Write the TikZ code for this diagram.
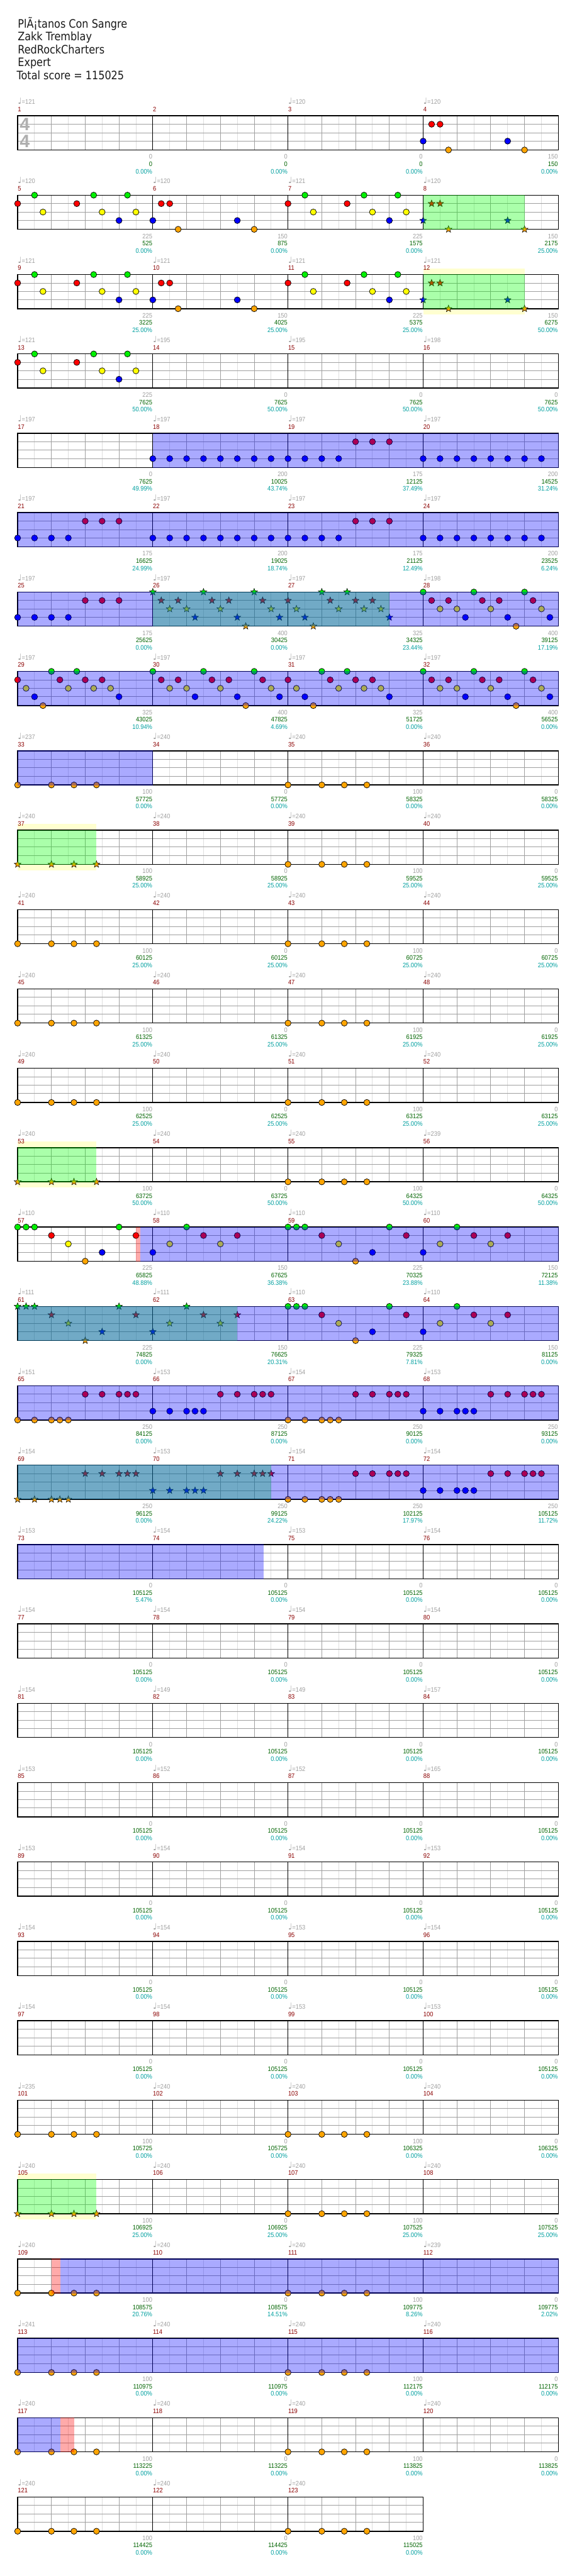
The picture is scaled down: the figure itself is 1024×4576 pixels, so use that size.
\documentclass[tikz,border=0pt]{standalone}
\usepackage{fontspec}
\setmainfont{Liberation Sans}
\newfontfamily\hdrf[FakeStretch=0.87]{DejaVu Sans}
\newfontfamily\lblf[FakeStretch=0.9]{Liberation Sans}
\newfontfamily\symf{DejaVu Sans}
\usetikzlibrary{shapes.geometric}
\definecolor{lane0}{RGB}{0,240,0}
\definecolor{lane1}{RGB}{255,0,0}
\definecolor{lane2}{RGB}{255,255,0}
\definecolor{lane3}{RGB}{0,0,255}
\definecolor{lane4}{RGB}{255,165,0}
\definecolor{gridl}{RGB}{222,222,222}
\definecolor{gridm}{RGB}{160,160,160}
\definecolor{tgray}{RGB}{160,160,160}
\definecolor{mnum}{RGB}{139,0,0}
\definecolor{cumg}{RGB}{0,100,0}
\definecolor{pctc}{RGB}{0,160,160}
\definecolor{yband}{RGB}{255,255,208}
\definecolor{sigc}{RGB}{175,175,175}
\tikzset{
  nt/.style={circle,draw=black,line width=0.4pt,minimum size=5.4pt,inner sep=0pt},
  stnote/.style={star,star points=5,star point ratio=2.4,draw=black,line width=0.3pt,minimum size=6.4pt,inner sep=0pt},
  lbl/.style={inner sep=0pt,font=\lblf\fontsize{5.8pt}{7pt}\selectfont},
  hdr/.style={inner sep=0pt,font=\hdrf\fontsize{10.3pt}{12pt}\selectfont,text=black!90},
  gl/.style={draw=gridl,line width=0.5pt},
  gm/.style={draw=gridm,line width=0.5pt},
}
\newcommand\mpos[1]{%
  \pgfmathtruncatemacro\mmR{div(#1-1,4)}%
  \pgfmathtruncatemacro\mmP{mod(#1-1,4)}%
  \pgfmathsetmacro\mmX{31.3+240*\mmP}%
  \pgfmathsetmacro\mmT{205.7+141*\mmR}%
  \pgfmathsetmacro\mmE{\mmX+240}}
\newcommand\labbot[4]{% measure, gray, green, pct
  \mpos{#1}%
  \node[lbl,anchor=base west,text=mnum] (mn#1) at (\mmX,\mmT-7.5) {#1};
  \node[lbl,anchor=base east,text=tgray] (ms#1) at (\mmE-0.5,\mmT+76.85) {#2};
  \node[lbl,anchor=base east,text=cumg] (mc#1) at (\mmE-0.5,\mmT+89.7) {#3};
  \node[lbl,anchor=base east,text=pctc] (mp#1) at (\mmE-0.5,\mmT+102.7) {#4\%};}
\newcommand\lab[5]{% measure, tempo, gray, green, pct
  \labbot{#1}{#3}{#4}{#5}%
  \node[lbl,anchor=base west,text=tgray] (mt#1) at (\mmX,\mmT-20.5) {{\symf\fontsize{7.5pt}{7.5pt}\selectfont ♩}=#2};}
\newcommand\staffrow[2]{% row (0-based), measures
  \pgfmathsetmacro\sT{205.7+141*#1}%
  \pgfmathsetmacro\sB{\sT+60.7}%
  \pgfmathsetmacro\sR{31.3+240*#2}%
  \pgfmathtruncatemacro\sN{8*#2-1}%
  \pgfmathtruncatemacro\sM{#2-1}%
  \fill[white] (31.3,\sT) rectangle (\sR,\sB);
  \foreach \k in {1,...,\sN} {\draw[gl] (31.3+30*\k,\sT) -- (31.3+30*\k,\sB);}
  \foreach \k in {2,4,...,\sN} {\draw[gm] (31.3+30*\k,\sT) -- (31.3+30*\k,\sB);}
  \foreach \j in {15,30,45} {\draw[gm] (31.3,\sT+\j) -- (\sR,\sT+\j);}
  \foreach \k in {1,...,\sM} {\draw[black,line width=0.5pt] (31.3+240*\k,\sT) -- (31.3+240*\k,\sB);}
  \draw[black,line width=0.8pt] (31.3,\sT) rectangle (\sR,\sB);}
\newcommand\nts[3]{% measure, style, pattern macro
  \mpos{#1}%
  \foreach \t/\l in #3 {%
    \pgfmathsetmacro\ny{(\l==4) ? (\mmT+60.7) : (\mmT+15*\l)}%
    \node[#2,fill=lane\l] at (\mmX+\t,\ny) {};}}
\newcommand\ovl[4]{% colour, row, x1, x2
  \pgfmathsetmacro\oT{205.7+141*#2}%
  \fill[#1,fill opacity=0.333] (#3,\oT-0.5) rectangle (#4,\oT+61.2);}
\newcommand\ybd[3]{% row, x1, x2
  \pgfmathsetmacro\oT{205.7+141*#1}%
  \fill[yband] (#2,\oT-11) rectangle (#3,\oT+71);}
\def\patFive{0/1,30/0,45/2,105/1,135/0,150/2,180/3,195/0,210/2}
\def\patSix{0/3,15/1,30/1,45/4,150/3,180/4}
\def\patEi{0/3,30/3,60/3,90/3,120/3,150/3,180/3,210/3}
\def\patNi{0/3,30/3,60/3,90/3,120/1,150/1,180/1}
\def\patA{0/0,15/1,30/2,45/1,60/2,75/3,90/0,105/1,120/2,135/1,150/3,165/4,180/0,195/1,210/2,225/3}
\def\patB{0/1,15/2,30/3,45/4,60/0,75/1,90/2,105/0,120/1,135/2,150/1,165/2,180/3}
\def\patO{0/4,60/4,100/4,140/4}
\def\patC{0/0,15/0,30/0,60/1,90/2,120/4,150/3,180/0,210/1}
\def\patD{0/3,30/2,60/0,90/1,120/2,150/1}
\def\patE{0/4,30/4,60/4,75/4,90/4,120/1,150/1,180/1,195/1,210/1}
\def\patF{0/3,30/3,60/3,75/3,90/3,120/1,150/1,180/1,195/1,210/1}
\begin{document}
\begin{tikzpicture}[x=0.5pt,y=-0.5pt]
\useasboundingbox (0,0) rectangle (1024,4576);
\fill[white] (0,0) rectangle (1024,4576);
% header
\node[hdr,anchor=base west] (title) at (31.3,50) {PlÃ¡tanos Con Sangre};
\node[hdr,anchor=base west] (artist) at (31.3,72.5) {Zakk Tremblay};
\node[hdr,anchor=base west] (charter) at (31.3,95.5) {RedRockCharters};
\node[hdr,anchor=base west] (diff) at (31.3,118.3) {Expert};
\node[hdr,anchor=base west] (total) at (29.3,141.3) {Total score = 115025};
% yellow bands
\ybd{2}{751.3}{931.3}
\ybd{9}{31.3}{171.3}
\ybd{13}{31.3}{171.3}
\ybd{26}{31.3}{171.3}
% staffs
\foreach \r in {0,...,29} {\staffrow{\r}{4}}
\staffrow{30}{3}
% time signature
\node[inner sep=0pt,text=sigc,font=\bfseries\fontsize{16pt}{16pt}\selectfont] (ts1) at (44,221) {4};
\node[inner sep=0pt,text=sigc,font=\bfseries\fontsize{16pt}{16pt}\selectfont] (ts2) at (44,250.7) {4};
% notes
\nts{4}{nt}{\patSix}
\foreach \m in {5,7,9,11,13} {\nts{\m}{nt}{\patFive}}
\foreach \m in {6,10} {\nts{\m}{nt}{\patSix}}
\foreach \m in {8,12} {\nts{\m}{stnote}{\patSix}}
\foreach \m in {18,20,22,24} {\nts{\m}{nt}{\patEi}}
\foreach \m in {19,21,23,25} {\nts{\m}{nt}{\patNi}}
\nts{26}{stnote}{\patA}
\nts{27}{stnote}{\patB}
\foreach \m in {28,30,32} {\nts{\m}{nt}{\patA}}
\foreach \m in {29,31} {\nts{\m}{nt}{\patB}}
\foreach \m in {33,35,39,41,43,45,47,49,51,55,101,103,107,109,111,113,115,117,119,121,123} {\nts{\m}{nt}{\patO}}
\foreach \m in {37,53,105} {\nts{\m}{stnote}{\patO}}
\foreach \m in {57,59,63} {\nts{\m}{nt}{\patC}}
\foreach \m in {58,60,64} {\nts{\m}{nt}{\patD}}
\nts{61}{stnote}{\patC}
\nts{62}{stnote}{\patD}
\foreach \m in {65,67,71} {\nts{\m}{nt}{\patE}}
\foreach \m in {66,68,72} {\nts{\m}{nt}{\patF}}
\nts{69}{stnote}{\patE}
\nts{70}{stnote}{\patF}
% overlays: green
\ovl{green}{1}{751.3}{931.3}
\ovl{green}{2}{751.3}{931.3}
\ovl{green}{6}{271.3}{691.3}
\ovl{green}{9}{31.3}{171.3}
\ovl{green}{13}{31.3}{171.3}
\ovl{green}{15}{31.3}{421.3}
\ovl{green}{17}{31.3}{481.3}
\ovl{green}{26}{31.3}{171.3}
% overlays: blue
\ovl{blue}{4}{271.3}{991.7}
\foreach \r in {5,6,7,15,16,17,28} {\ovl{blue}{\r}{30.9}{991.7}}
\ovl{blue}{8}{30.9}{271.3}
\ovl{blue}{14}{248.8}{991.7}
\ovl{blue}{18}{30.9}{468.3}
\ovl{blue}{27}{107.8}{991.7}
\ovl{blue}{29}{30.9}{107.8}
% overlays: red
\ovl{red}{14}{241.3}{248.8}
\ovl{red}{27}{91.4}{107.8}
\ovl{red}{29}{107.8}{131.3}
% labels
\lab{1}{121}{0}{0}{0.00}
\labbot{2}{0}{0}{0.00}
\lab{3}{120}{0}{0}{0.00}
\lab{4}{120}{150}{150}{0.00}
\foreach \m/\tp/\g/\c/\p in {5/120/225/525/0.00, 6/120/150/875/0.00, 7/121/225/1575/0.00, 8/120/150/2175/25.00,
  9/121/225/3225/25.00, 10/121/150/4025/25.00, 11/121/225/5375/25.00, 12/121/150/6275/50.00,
  13/121/225/7625/50.00, 14/195/0/7625/50.00, 15/195/0/7625/50.00, 16/198/0/7625/50.00,
  17/197/0/7625/49.99, 18/197/200/10025/43.74, 19/197/175/12125/37.49, 20/197/200/14525/31.24,
  21/197/175/16625/24.99, 22/197/200/19025/18.74, 23/197/175/21125/12.49, 24/197/200/23525/6.24,
  25/197/175/25625/0.00, 26/197/400/30425/0.00, 27/197/325/34325/23.44, 28/198/400/39125/17.19,
  29/197/325/43025/10.94, 30/197/400/47825/4.69, 31/197/325/51725/0.00, 32/197/400/56525/0.00,
  33/237/100/57725/0.00, 34/240/0/57725/0.00, 35/240/100/58325/0.00, 36/240/0/58325/0.00,
  37/240/100/58925/25.00, 38/240/0/58925/25.00, 39/240/100/59525/25.00, 40/240/0/59525/25.00,
  41/240/100/60125/25.00, 42/240/0/60125/25.00, 43/240/100/60725/25.00, 44/240/0/60725/25.00,
  45/240/100/61325/25.00, 46/240/0/61325/25.00, 47/240/100/61925/25.00, 48/240/0/61925/25.00,
  49/240/100/62525/25.00, 50/240/0/62525/25.00, 51/240/100/63125/25.00, 52/240/0/63125/25.00,
  53/240/100/63725/50.00, 54/240/0/63725/50.00, 55/240/100/64325/50.00, 56/239/0/64325/50.00,
  57/110/225/65825/48.88, 58/110/150/67625/36.38, 59/110/225/70325/23.88, 60/110/150/72125/11.38,
  61/111/225/74825/0.00, 62/111/150/76625/20.31, 63/110/225/79325/7.81, 64/110/150/81125/0.00,
  65/151/250/84125/0.00, 66/153/250/87125/0.00, 67/154/250/90125/0.00, 68/153/250/93125/0.00,
  69/154/250/96125/0.00, 70/153/250/99125/24.22, 71/154/250/102125/17.97, 72/154/250/105125/11.72,
  73/153/0/105125/5.47, 74/154/0/105125/0.00, 75/153/0/105125/0.00, 76/154/0/105125/0.00}
  {\lab{\m}{\tp}{\g}{\c}{\p}}
\foreach \m/\tp in {77/154,78/154,79/154,80/154,81/154,82/149,83/149,84/157,
  85/153,86/152,87/152,88/165,89/153,90/154,91/154,92/153,
  93/154,94/154,95/153,96/154,97/154,98/154,99/153,100/153}
  {\lab{\m}{\tp}{0}{105125}{0.00}}
\foreach \m/\tp/\g/\c/\p in {101/235/100/105725/0.00, 102/240/0/105725/0.00, 103/240/100/106325/0.00, 104/240/0/106325/0.00,
  105/240/100/106925/25.00, 106/240/0/106925/25.00, 107/240/100/107525/25.00, 108/240/0/107525/25.00,
  109/240/100/108575/20.76, 110/240/0/108575/14.51, 111/240/100/109775/8.26, 112/239/0/109775/2.02,
  113/241/100/110975/0.00, 114/240/0/110975/0.00, 115/240/100/112175/0.00, 116/240/0/112175/0.00,
  117/240/100/113225/0.00, 118/240/0/113225/0.00, 119/240/100/113825/0.00, 120/240/0/113825/0.00,
  121/240/100/114425/0.00, 122/240/0/114425/0.00, 123/240/100/115025/0.00}
  {\lab{\m}{\tp}{\g}{\c}{\p}}
\end{tikzpicture}
\end{document}
